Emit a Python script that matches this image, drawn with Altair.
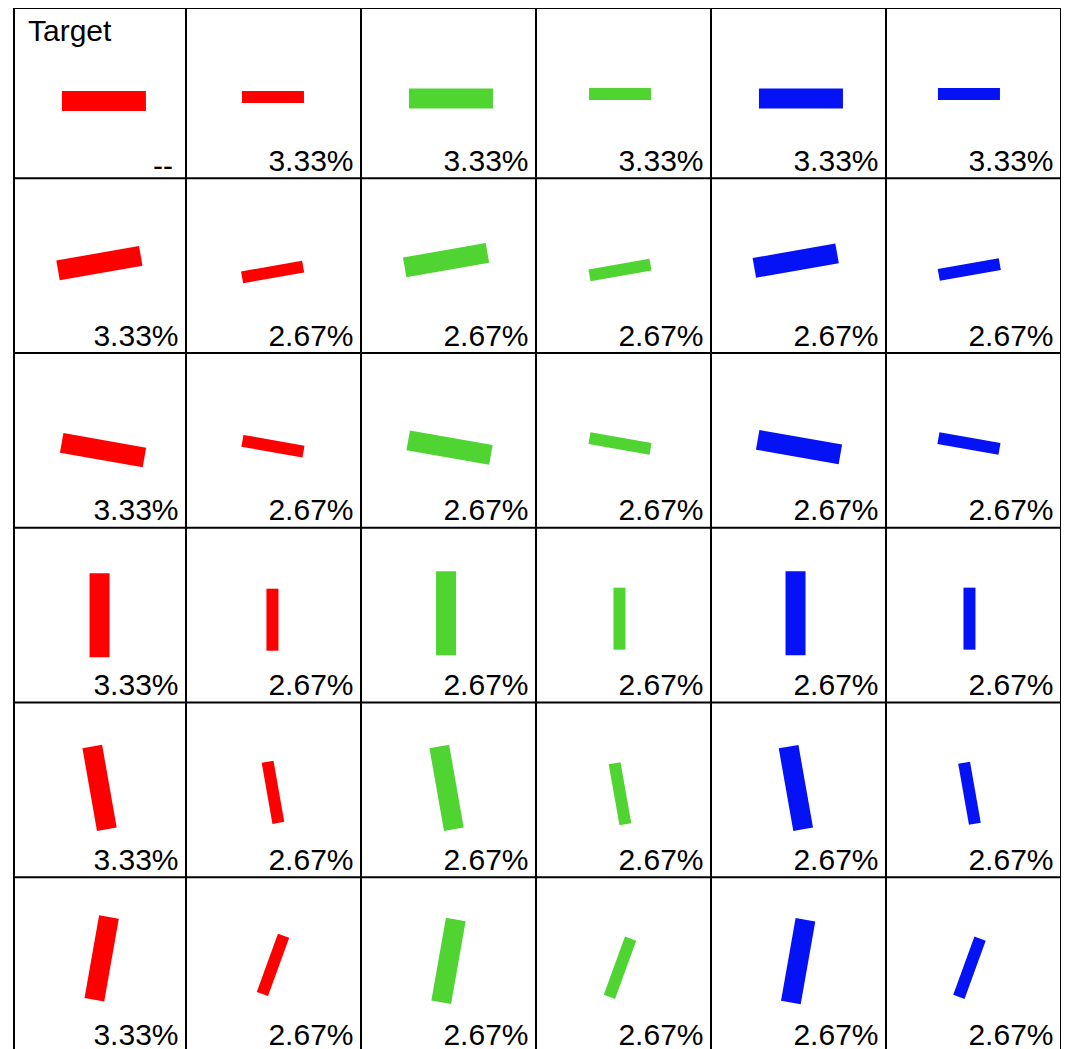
import altair as alt
import pandas as pd

# ---- data ----
col_colors = ["#ff0000", "#ff0000", "#50d432", "#50d432", "#0512f5", "#0512f5"]
col_sizes = ["large", "small", "large", "small", "large", "small"]
row_angles_large = [0, 350, 10, 90, 80, 100]
row_angles_small = [0, 350, 10, 90, 80, 110]

labels = [
    ["--", "3.33%", "3.33%", "3.33%", "3.33%", "3.33%"],
    ["3.33%", "2.67%", "2.67%", "2.67%", "2.67%", "2.67%"],
    ["3.33%", "2.67%", "2.67%", "2.67%", "2.67%", "2.67%"],
    ["3.33%", "2.67%", "2.67%", "2.67%", "2.67%", "2.67%"],
    ["3.33%", "2.67%", "2.67%", "2.67%", "2.67%", "2.67%"],
    ["3.33%", "2.67%", "2.67%", "2.67%", "2.67%", "2.67%"],
]
target_text = "Target"

# bar centre inside its cell, as a fraction of the cell
bar_x = [
    [0.531, 0.497, 0.514, 0.480, 0.514, 0.474],
    [0.505, 0.495, 0.486, 0.480, 0.484, 0.476],
    [0.526, 0.497, 0.506, 0.480, 0.503, 0.474],
    [0.506, 0.494, 0.486, 0.477, 0.483, 0.477],
    [0.506, 0.497, 0.489, 0.480, 0.485, 0.477],
    [0.518, 0.497, 0.500, 0.480, 0.498, 0.477],
]
bar_y = [
    [0.558, 0.535, 0.543, 0.518, 0.543, 0.518],
    [0.485, 0.536, 0.468, 0.525, 0.471, 0.522],
    [0.556, 0.533, 0.541, 0.518, 0.538, 0.518],
    [0.500, 0.526, 0.489, 0.520, 0.489, 0.520],
    [0.488, 0.514, 0.488, 0.522, 0.489, 0.519],
    [0.464, 0.501, 0.478, 0.518, 0.480, 0.518],
]

grid_lines = [1, 2, 3, 4, 5]

# ---- build table ----
rows = []
for r in range(6):
    for c in range(6):
        size = col_sizes[c]
        rows.append({
            "row": r, "col": c,
            "u": c + bar_x[r][c], "v": r + bar_y[r][c],
            "angle": row_angles_large[r] if size == "large" else row_angles_small[r],
            "color": col_colors[c], "size": size,
            "label": labels[r][c], "lx": c + 1, "ly": r + 1,
        })
df = pd.DataFrame(rows)
lines_df = pd.DataFrame({"p": grid_lines})
title_df = pd.DataFrame({"lx": [0], "ly": [0], "t": [target_text]})

x_scale = alt.Scale(domain=[0.01714, 6], nice=False, zero=False)
y_scale = alt.Scale(domain=[0.0252, 6], nice=False, zero=False, reverse=True)

FONT = "Liberation Sans"

base = alt.Chart(df)

LARGE_PATH = "M-1,-0.2381L1,-0.2381L1,0.2381L-1,0.2381Z"
SMALL_PATH = "M-1,-0.1935L1,-0.1935L1,0.1935L-1,0.1935Z"

large = base.transform_filter(alt.datum.size == "large").mark_point(
    shape=LARGE_PATH, filled=True, size=84 * 84, opacity=1
).encode(
    x=alt.X("u:Q", scale=x_scale, axis=None),
    y=alt.Y("v:Q", scale=y_scale, axis=None),
    color=alt.Color("color:N", scale=None),
    angle=alt.Angle("angle:Q", scale=None),
)

small = base.transform_filter(alt.datum.size == "small").mark_point(
    shape=SMALL_PATH, filled=True, size=62 * 62, opacity=1
).encode(
    x=alt.X("u:Q", scale=x_scale, axis=None),
    y=alt.Y("v:Q", scale=y_scale, axis=None),
    color=alt.Color("color:N", scale=None),
    angle=alt.Angle("angle:Q", scale=None),
)

vlines = alt.Chart(lines_df).mark_rule(color="black", strokeWidth=2).encode(
    x=alt.X("p:Q", scale=x_scale, axis=None)
)
hlines = alt.Chart(lines_df).mark_rule(color="black", strokeWidth=2).encode(
    y=alt.Y("p:Q", scale=y_scale, axis=None)
)

pct = base.transform_filter(alt.datum.label != "--").mark_text(
    align="right", baseline="alphabetic", font=FONT, fontSize=30,
    color="black", dx=-7.5, dy=-7.3
).encode(
    x=alt.X("lx:Q", scale=x_scale, axis=None),
    y=alt.Y("ly:Q", scale=y_scale, axis=None),
    text="label:N",
)

dash = base.transform_filter(alt.datum.label == "--").mark_text(
    align="right", baseline="alphabetic", font=FONT, fontSize=30,
    color="black", dx=-13, dy=-2.6
).encode(
    x=alt.X("lx:Q", scale=x_scale, axis=None),
    y=alt.Y("ly:Q", scale=y_scale, axis=None),
    text="label:N",
)

title = alt.Chart(title_df).mark_text(
    align="left", baseline="alphabetic", font=FONT, fontSize=30,
    color="black", dx=17, dy=37.4
).encode(
    x=alt.X("lx:Q", scale=x_scale, axis=None),
    y=alt.Y("ly:Q", scale=y_scale, axis=None),
    text="t:N",
)

chart = alt.layer(vlines, hlines, large, small, pct, dash, title).properties(
    width=1047, height=1044,
    padding={"left": 6, "top": 0, "right": 0, "bottom": 0},
    autosize=alt.AutoSizeParams(type="none"),
    background="white",
).configure_view(stroke="black", strokeWidth=2)

chart.save("out.html", embed_options={"renderer": "svg", "actions": False})
